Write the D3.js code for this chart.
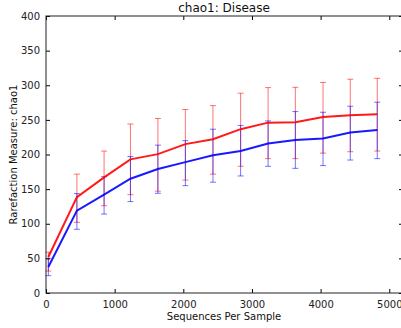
<!DOCTYPE html>
<html>
<head>
<meta charset="utf-8">
<script src="https://cdn.jsdelivr.net/npm/d3@7"></script>
<style>
  body { margin: 0; background: #fff; }
  svg { display: block; font-family: "DejaVu Sans", sans-serif; }
</style>
</head>
<body>
<div id="chart"></div>
<script>
// DATA
const seqs = [34, 450, 846, 1230, 1630, 2030, 2432, 2835, 3235, 3632, 4035, 4432, 4825];
const redMean = [52, 138.5, 167, 193, 200.5, 215, 222, 236.6, 246, 246.6, 254, 256.8, 258];
const redLow = [31.7, 102, 126, 142, 147, 163, 171.6, 183, 194, 194, 202, 204, 205];
const redHigh = [59, 171.6, 205, 244, 252, 265, 270.6, 288.5, 296.6, 297, 304, 308.7, 310];
const blueMean = [37.5, 119, 142, 165, 179, 189, 199, 205, 216, 221, 223, 231.7, 235.5];
const blueLow = [25, 92, 114, 132, 144, 155, 160, 169, 183, 180, 184, 192, 194];
const blueHigh = [50, 143.6, 168, 197, 213.5, 220, 236.5, 242, 248.5, 262, 261, 269.7, 275.5];
const xTicks = [0, 1000, 2000, 3000, 4000, 5000];
const yTicks = [0, 50, 100, 150, 200, 250, 300, 350, 400];

const WIDTH = 401, HEIGHT = 328;
const MARGIN = { LEFT: 46, TOP: 16, RIGHT: 403, BOTTOM: 293 };

const svg = d3.select("#chart")
  .append("svg")
  .attr("width", WIDTH)
  .attr("height", HEIGHT);

const x = d3.scaleLinear().domain([0, 5200]).range([MARGIN.LEFT, MARGIN.RIGHT]);
const y = d3.scaleLinear().domain([0, 400]).range([MARGIN.BOTTOM, MARGIN.TOP]);

const series = [
  { color: "#ff0000", mean: redMean, low: redLow, high: redHigh },
  { color: "#0000ff", mean: blueMean, low: blueLow, high: blueHigh }
];

// ERROR BARS
series.forEach((s) => {
  const g = svg.append("g")
    .attr("stroke", s.color)
    .attr("stroke-opacity", 0.55)
    .attr("stroke-width", 1);
  seqs.forEach((v, i) => {
    g.append("line")
      .attr("x1", x(v)).attr("x2", x(v))
      .attr("y1", y(s.low[i])).attr("y2", y(s.high[i]));
    [s.low[i], s.high[i]].forEach((c) => {
      g.append("line")
        .attr("x1", x(v) - 3).attr("x2", x(v) + 3)
        .attr("y1", y(c)).attr("y2", y(c));
    });
  });
});

// LINES
const line = d3.line().x((d) => x(d[0])).y((d) => y(d[1]));
series.forEach((s) => {
  svg.append("path")
    .datum(seqs.map((v, i) => [v, s.mean[i]]))
    .attr("fill", "none")
    .attr("stroke", s.color)
    .attr("stroke-opacity", 0.9)
    .attr("stroke-width", 2)
    .attr("d", line);
});

// AXES (ticks inside, mirrored)
const tick = 4;
const axisColor = "#000";
const bottomAxis = svg.append("g")
  .attr("transform", `translate(0, ${MARGIN.BOTTOM})`)
  .call(d3.axisBottom(x).tickValues(xTicks).tickSize(-tick).tickPadding(8).tickFormat(d3.format("d")));
const topAxis = svg.append("g")
  .attr("transform", `translate(0, ${MARGIN.TOP})`)
  .call(d3.axisTop(x).tickValues(xTicks).tickSize(-tick).tickFormat(""));
const leftAxis = svg.append("g")
  .attr("transform", `translate(${MARGIN.LEFT}, 0)`)
  .call(d3.axisLeft(y).tickValues(yTicks).tickSize(-tick).tickPadding(6));
const rightAxis = svg.append("g")
  .attr("transform", `translate(${MARGIN.RIGHT}, 0)`)
  .call(d3.axisRight(y).tickValues(yTicks).tickSize(-tick).tickFormat(""));

[bottomAxis, topAxis, leftAxis, rightAxis].forEach((g) => {
  g.select(".domain").remove();
  g.selectAll(".tick line").attr("stroke", axisColor);
  g.selectAll("text").attr("font-size", "10px").attr("fill", "#222")
    .attr("font-family", "DejaVu Sans");
});

svg.append("rect")
  .attr("x", MARGIN.LEFT)
  .attr("y", MARGIN.TOP)
  .attr("width", MARGIN.RIGHT - MARGIN.LEFT)
  .attr("height", MARGIN.BOTTOM - MARGIN.TOP)
  .attr("fill", "none")
  .attr("stroke", "#222")
  .attr("stroke-width", 1);

// TITLE & LABELS
svg.append("text")
  .attr("x", 224)
  .attr("y", 12)
  .attr("text-anchor", "middle")
  .attr("font-size", "12px")
  .attr("fill", "#111")
  .text("chao1: Disease");

svg.append("text")
  .attr("x", 224)
  .attr("y", 320)
  .attr("text-anchor", "middle")
  .attr("font-size", "10px")
  .attr("fill", "#111")
  .text("Sequences Per Sample");

svg.append("text")
  .attr("transform", `translate(17, ${(MARGIN.TOP + MARGIN.BOTTOM) / 2}) rotate(-90)`)
  .attr("text-anchor", "middle")
  .attr("font-size", "10px")
  .attr("fill", "#111")
  .text("Rarefaction Measure: chao1");
</script>
</body>
</html>
